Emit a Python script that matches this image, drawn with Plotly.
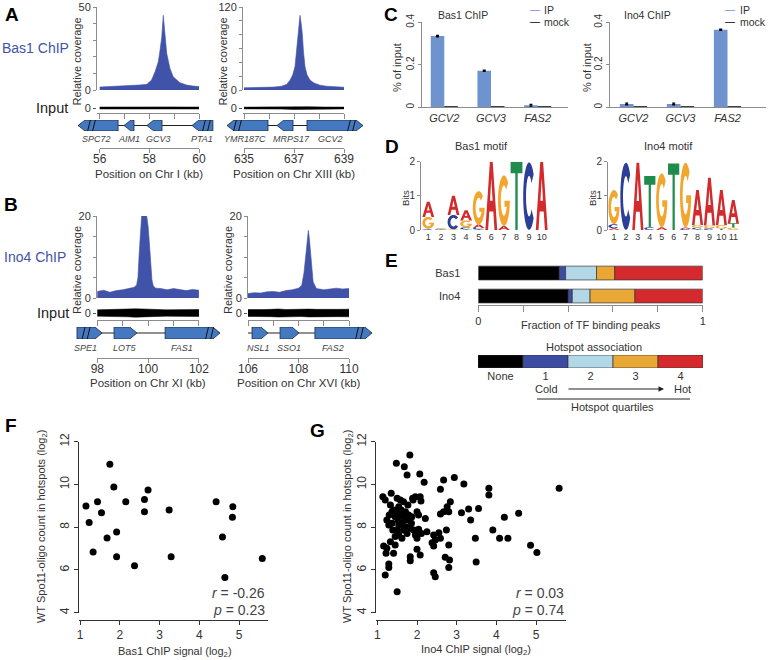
import numpy as np
import plotly.graph_objects as go

W, H = 768, 660
FONT = "Liberation Sans, Arial, sans-serif"
TXT = "#333333"
AXC = "#8c8c8c"
COV_BLUE = "#4153a8"
GENE_BLUE = "#4479bf"
IP_BLUE = "#6f93cf"
NT_COL = {"A": "#d32a2c", "C": "#2c3e98", "G": "#f2a62e", "T": "#1f8c4d"}
HOT_COL = ["#000000", "#3c4ca3", "#b2d8e8", "#e9a736", "#d42a2d"]

# ---------------- A: Bas1 ChIP, Chr I ----------------
a1_kb = [56.0, 56.3, 56.6, 56.9, 57.0, 57.3, 57.6, 57.9, 58.09, 58.23, 58.36,
         58.43, 58.50, 58.56, 58.63, 58.70, 58.83, 58.96, 59.23, 59.5, 59.75, 60.0]
a1_cov = [1.8, 2.0, 1.9, 2.1, 2.6, 2.8, 3.0, 3.4, 6.0, 11, 17,
          24, 32, 45, 34, 22, 13, 8, 4.4, 3.0, 2.4, 2.1]
a1_in_kb = [56.0, 56.7, 57.3, 57.8, 58.3, 58.6, 59.0, 59.5, 60.0]
a1_in = [0.2, 0.22, 0.28, 0.25, 0.32, 0.3, 0.22, 0.2, 0.2]
a1_sites = [58.54]
a1_genes = ["SPC72", "AIM1", "GCV3", "PTA1"]
a1_start = [55.13, 56.98, 57.90, 59.72]
a1_end = [56.74, 57.38, 58.51, 60.56]
a1_strand = [-1, -1, -1, -1]
a1_breaks = [55.57, 55.77, 60.20, 60.40]
a1_lab = [55.89, 57.16, 58.35, 60.12]

# ---------------- A: Bas1 ChIP, Chr XIII ----------------
a2_kb = [635.0, 635.3, 635.6, 635.9, 636.2, 636.5, 636.7, 636.84, 636.95, 637.04,
         637.1, 637.15, 637.2, 637.24, 637.28, 637.33, 637.38, 637.44, 637.52,
         637.64, 637.8, 638.04, 638.3, 638.6, 639.0]
a2_cov = [3.2, 3.5, 3.4, 3.8, 4.2, 5.5, 8, 14, 22, 34,
          55, 82, 100, 108, 98, 82, 55, 34, 22,
          14.5, 10, 7, 5.5, 4.5, 4.0]
a2_in_kb = [635.0, 635.8, 636.5, 637.0, 637.25, 637.6, 638.2, 639.0]
a2_in = [0.18, 0.2, 0.22, 0.3, 0.36, 0.26, 0.2, 0.18]
a2_sites = [637.24]
a2_genes = ["YMR187C", "MRPS17", "GCV2"]
a2_start = [634.32, 636.32, 637.52]
a2_end = [635.96, 636.96, 639.76]
a2_strand = [-1, -1, 1]
a2_breaks = [634.64, 634.84, 639.20, 639.40]
a2_lab = [635.04, 636.92, 638.44]

# ---------------- B: Ino4 ChIP, Chr XI ----------------
b1_kb = [98.0, 98.25, 98.5, 98.75, 99.0, 99.25, 99.45, 99.55, 99.6, 99.65,
         99.7, 99.75, 99.8, 99.85, 99.9, 99.95, 100.0, 100.05, 100.1, 100.15,
         100.2, 100.3, 100.5, 100.75, 101.0, 101.25, 101.5, 101.75, 102.0]
b1_cov = [1.6, 1.9, 1.4, 1.8, 2.0, 2.4, 2.6, 3.2, 5, 11,
          17, 20.5, 21.2, 20.8, 20.6, 19.8, 17.5, 13.5, 8.5, 4.5,
          3.0, 2.4, 2.3, 2.0, 2.3, 2.0, 1.8, 2.1, 1.9]
b1_in_kb = [98.0, 98.3, 98.6, 98.9, 99.2, 99.5, 99.8, 100.1, 100.4, 100.7,
            101.0, 101.3, 101.6, 102.0]
b1_in = [0.45, 0.5, 0.55, 0.5, 0.55, 0.6, 0.58, 0.52, 0.5, 0.45,
         0.48, 0.5, 0.52, 0.5]
b1_sites = [99.81, 99.91]
b1_genes = ["SPE1", "LOT5", "FAS1"]
b1_start = [97.20, 98.66, 100.67]
b1_end = [98.19, 99.56, 102.83]
b1_strand = [1, 1, 1]
b1_breaks = [97.46, 97.66, 102.32, 102.52]
b1_lab = [97.52, 99.09, 101.33]

# ---------------- B: Ino4 ChIP, Chr XVI ----------------
b2_kb = [106.0, 106.25, 106.5, 106.75, 107.0, 107.25, 107.5, 107.75, 108.0, 108.13,
         108.22, 108.3, 108.36, 108.39, 108.43, 108.48, 108.53, 108.58, 108.71,
         109.0, 109.25, 109.5, 109.75, 110.0]
b2_cov = [1.1, 1.3, 1.2, 1.5, 1.6, 1.4, 1.8, 2.0, 2.4, 3.1,
          6.3, 12, 15.5, 16.5, 14.5, 11, 6.5, 3.9, 2.3,
          2.0, 2.2, 2.4, 2.2, 2.3]
b2_in_kb = [106.0, 106.3, 106.6, 106.9, 107.2, 107.5, 107.8, 108.1, 108.4, 108.7,
            109.0, 109.3, 109.6, 110.0]
b2_in = [0.5, 0.55, 0.5, 0.52, 0.58, 0.5, 0.55, 0.5, 0.56, 0.52,
         0.5, 0.55, 0.52, 0.55]
b2_sites = [108.39]
b2_genes = ["NSL1", "SSO1", "FAS2"]
b2_start = [106.16, 107.27, 108.65]
b2_end = [106.79, 108.02, 110.91]
b2_strand = [1, 1, 1]
b2_breaks = [110.32, 110.51]
b2_lab = [106.40, 107.62, 109.37]

# ---------------- C: ChIP-qPCR ----------------
qpcr_genes = ["GCV2", "GCV3", "FAS2"]
bas1_ip = [0.335, 0.172, 0.01]
bas1_ip_err = [0.003, 0.003, 0.004]
bas1_mock = [0.004, 0.003, 0.003]
ino4_ip = [0.016, 0.016, 0.365]
ino4_ip_err = [0.004, 0.004, 0.003]
ino4_mock = [0.003, 0.003, 0.003]

# ---------------- D: motifs (bits) ----------------
bas1_A = [0.45, 0.01, 0.56, 0.30, 0.10, 2.0, 0.12, 0.0, 0.0, 2.0]
bas1_C = [0.02, 0.015, 0.42, 0.06, 0.04, 0.0, 0.0, 0.0, 1.98, 0.0]
bas1_G = [0.34, 0.015, 0.02, 0.20, 0.98, 0.0, 1.48, 0.0, 0.0, 0.0]
bas1_T = [0.02, 0.01, 0.0, 0.02, 0.02, 0.0, 0.0, 2.0, 0.0, 0.0]
ino4_A = [0.05, 0.0, 1.97, 0.0, 0.08, 0.0, 0.04, 1.02, 1.40, 1.03, 0.68]
ino4_C = [0.12, 1.97, 0.0, 0.08, 0.0, 0.0, 0.03, 0.05, 0.05, 0.0, 0.0]
ino4_G = [1.00, 0.0, 0.0, 0.0, 1.58, 0.0, 1.90, 0.08, 0.08, 0.10, 0.07]
ino4_T = [0.0, 0.0, 0.0, 1.50, 0.0, 1.95, 0.0, 0.02, 0.0, 0.04, 0.13]

# ---------------- E: hotspot association ----------------
hot_labels = ["None", "1", "2", "3", "4"]
bas1_frac = [0.361, 0.028, 0.138, 0.081, 0.392]
ino4_frac = [0.401, 0.018, 0.079, 0.200, 0.302]

# ---------------- F, G: scatter ----------------
f_x = [1.15, 1.23, 1.33, 1.44, 1.54, 1.68, 1.75, 1.85, 1.92, 1.92,
       2.15, 2.37, 2.62, 2.62, 2.71, 3.24, 3.29, 4.42, 4.58, 4.64,
       4.83, 4.84, 5.58]
f_y = [8.99, 8.22, 6.84, 9.19, 8.68, 7.49, 10.95, 9.88, 7.77, 6.62,
       9.19, 6.20, 9.30, 8.72, 9.74, 8.80, 6.62, 9.19, 7.54, 5.65,
       8.47, 8.96, 6.54]
g_x = [1.82, 1.48, 1.68, 1.75, 2.07, 2.18, 2.67, 2.94, 2.59, 3.18,
       3.81, 3.81, 1.14, 1.35, 1.20, 1.50, 1.66, 1.58, 1.89, 1.96,
       2.08, 2.10, 1.90, 1.33, 1.41, 1.54, 1.71, 1.79, 1.58, 1.45,
       1.24, 1.37, 1.29, 1.54, 1.62, 1.71, 1.83, 2.00, 2.04, 2.21,
       2.59, 2.67, 2.76, 2.84, 2.80, 3.12, 3.30, 3.55, 3.35, 3.91,
       4.08, 3.47, 3.49, 1.92, 2.04, 2.11, 1.96, 2.00, 2.25, 2.42,
       2.55, 2.74, 2.46, 2.59, 2.42, 2.38, 2.80, 1.50, 1.45, 1.62,
       1.33, 1.16, 1.24, 1.45, 1.41, 1.22, 2.00, 2.08, 1.83, 1.83,
       2.71, 2.82, 2.80, 1.29, 1.29, 1.20, 2.42, 2.46, 1.50, 1.37,
       1.50, 1.75, 1.66, 1.87, 1.77, 1.60, 1.30, 1.52, 1.86, 1.39,
       1.66, 1.75, 1.54, 4.20, 4.56, 4.86, 5.02, 5.58, 4.29]
g_y = [11.38, 10.99, 10.83, 10.44, 10.49, 10.10, 10.21, 10.33, 9.77, 10.02,
       9.82, 9.51, 9.43, 9.59, 9.27, 9.35, 9.19, 9.27, 9.35, 9.43,
       9.43, 9.22, 9.27, 9.04, 8.80, 8.96, 8.72, 8.57, 8.57, 8.49,
       8.34, 8.18, 8.10, 8.10, 8.18, 8.02, 7.95, 8.72, 8.57, 8.41,
       8.62, 8.72, 8.96, 9.19, 8.72, 8.68, 8.85, 8.88, 8.34, 7.87,
       7.48, 7.48, 6.37, 7.87, 7.90, 7.71, 7.63, 7.48, 7.79, 7.63,
       7.74, 7.87, 7.40, 7.48, 7.12, 7.27, 7.17, 7.87, 7.56, 7.48,
       7.32, 7.12, 7.01, 7.17, 6.78, 6.78, 6.97, 6.70, 6.62, 6.43,
       6.59, 6.47, 6.11, 6.28, 6.12, 5.76, 5.87, 5.68, 4.98, 8.72,
       8.65, 8.34, 8.49, 8.49, 9.04, 8.80, 8.57, 8.34, 8.18, 7.87,
       7.87, 7.71, 7.63, 8.46, 8.65, 7.15, 6.82, 9.82, 7.48]

# ================= figure plumbing =================
fig = go.Figure()
layout = {}
ann = []
shp = []
nax = [0]


def X(p):
    return p / W


def Y(p):
    return 1 - p / H


# automargin off: tick labels must not shrink the pixel layout
BASE = dict(showgrid=False, zeroline=False, showline=False, showticklabels=False,
            ticks="", fixedrange=True, automargin=False)


def axes(xl, xr, yb, yt, xrange, yrange, xo=None, yo=None):
    nax[0] += 1
    s = "" if nax[0] == 1 else str(nax[0])
    xa = dict(BASE, domain=[X(xl), X(xr)], range=xrange, anchor="y" + s)
    ya = dict(BASE, domain=[Y(yb), Y(yt)], range=yrange, anchor="x" + s)
    xa.update(xo or {})
    ya.update(yo or {})
    layout["xaxis" + s] = xa
    layout["yaxis" + s] = ya
    return "x" + s, "y" + s


def text(t, px, py, size=11, color=TXT, angle=0, xanchor="center"):
    ann.append(dict(text=t, x=X(px), y=Y(py), xref="paper", yref="paper",
                    showarrow=False, textangle=angle, xanchor=xanchor,
                    yanchor="middle", font=dict(family=FONT, size=size, color=color)))


def tf(size=11):
    return dict(family=FONT, size=size, color=TXT)


ROW_A = dict(top=7, bot=90, in_mid=108, in_line=113, g_mid=125.5, g_half=5.5,
             lab=138.5, pos=147, title=174, site=94.5)
ROW_B = dict(top=216, bot=298, in_mid=313, in_line=320, g_mid=333, g_half=6,
             lab=348, pos=356.5, title=383, site=302.5)


def genome(c, r, kb, cov, ymax, step, in_kb, in_v, sites, sym, genes, st, en,
           strand, breaks, lab, chrom):
    kb_at = lambda p: c["kb0"] + (p - c["x0"]) / c["s"]
    xe = c["x0"] + 4 * c["s"]
    # coverage
    tv = list(range(0, ymax + 1, step))
    tt = [str(v) if v in (0, ymax) else "" for v in tv]
    xa, ya = axes(c["ax"], xe, r["bot"], r["top"], [kb_at(c["ax"]), c["kb0"] + 4],
                  [0, ymax],
                  yo=dict(showline=True, linecolor=AXC, linewidth=1, ticks="outside",
                          ticklen=3, tickcolor=AXC, tickvals=tv, ticktext=tt,
                          showticklabels=True, tickfont=tf(11)))
    fig.add_trace(go.Scatter(x=kb, y=cov, mode="lines", fill="tozeroy",
                             fillcolor=COV_BLUE, line=dict(color=COV_BLUE, width=0.6),
                             xaxis=xa, yaxis=ya, hoverinfo="skip"))
    ys = -(r["site"] - r["bot"]) * ymax / (r["bot"] - r["top"])
    if sym == "square":
        mk = dict(symbol="square", size=3, color="black")
    else:
        mk = dict(symbol="line-ns-open", size=5, line=dict(color="black", width=1))
    fig.add_trace(go.Scatter(x=sites, y=[ys] * len(sites), mode="markers", marker=mk,
                             cliponaxis=False, xaxis=xa, yaxis=ya, hoverinfo="skip"))
    text("Relative coverage", c["ax"] - 20, (r["top"] + r["bot"]) / 2 + 13, 11, angle=-90)
    # input
    xa, ya = axes(c["ax"], xe, r["in_line"], 2 * r["in_mid"] - r["in_line"],
                  [kb_at(c["ax"]), c["kb0"] + 4], [-1, 1],
                  xo=dict(showline=True, linecolor=AXC, ticks="outside", ticklen=5,
                          tickcolor=AXC, tickvals=[c["kb0"] + i for i in range(5)]),
                  yo=dict(ticks="outside", ticklen=3, tickcolor="#555", tickvals=[0],
                          ticktext=["0"], showticklabels=True, tickfont=tf(11)))
    fig.add_trace(go.Scatter(x=list(in_kb) + list(in_kb[::-1]),
                             y=list(in_v) + [-v for v in in_v[::-1]],
                             mode="lines", fill="toself", fillcolor="black",
                             line=dict(color="black", width=0.5),
                             xaxis=xa, yaxis=ya, hoverinfo="skip"))
    # genes
    xa, ya = axes(c["gl"], c["gr"], r["g_mid"] + r["g_half"], r["g_mid"] - r["g_half"],
                  [kb_at(c["gl"]), kb_at(c["gr"])], [-1, 1])
    fig.add_trace(go.Scatter(x=[min(min(st), c["kb0"]), max(en)], y=[0, 0], mode="lines",
                             line=dict(color="#222", width=1), xaxis=xa, yaxis=ya,
                             hoverinfo="skip"))
    for g0, g1, sd in zip(st, en, strand):
        head = min(0.28, 0.7 * (g1 - g0))
        if sd > 0:
            px_ = [g0, g1 - head, g1, g1 - head, g0, g0]
        else:
            px_ = [g1, g0 + head, g0, g0 + head, g1, g1]
        fig.add_trace(go.Scatter(x=px_, y=[-1, -1, 0, 1, 1, -1], mode="lines",
                                 fill="toself", fillcolor=GENE_BLUE,
                                 line=dict(color="#1d2940", width=0.8),
                                 xaxis=xa, yaxis=ya, hoverinfo="skip"))
    bx, by = [], []
    for b in breaks:
        bx += [b - 0.07, b + 0.07, None]
        by += [-1.25, 1.25, None]
    fig.add_trace(go.Scatter(x=bx, y=by, mode="lines", line=dict(color="#111", width=1),
                             cliponaxis=False, xaxis=xa, yaxis=ya, hoverinfo="skip"))
    for name, lx in zip(genes, lab):
        text("<i>%s</i>" % name, c["x0"] + (lx - c["kb0"]) * c["s"], r["lab"], 9, "#444")
    # position scale (an invisible point keeps the axis drawn)
    xa, ya = axes(c["x0"], xe, r["pos"] + 1, r["pos"], [c["kb0"], c["kb0"] + 4], [0, 1],
                  xo=dict(showline=True, linecolor=AXC, ticks="outside", ticklen=4,
                          tickcolor=AXC, tickvals=[c["kb0"], c["kb0"] + 2, c["kb0"] + 4],
                          showticklabels=True, ticklabelstandoff=-4, tickfont=tf(12)))
    fig.add_trace(go.Scatter(x=[c["kb0"]], y=[0.5], mode="markers",
                             marker=dict(opacity=0), xaxis=xa, yaxis=ya, hoverinfo="skip"))
    text("Position on Chr %s (kb)" % chrom, (c["x0"] + xe) / 2, r["title"], 11.5)


COL_AL = dict(kb0=56, x0=99.7, s=24.83, ax=97, gl=72, gr=222)
COL_AR = dict(kb0=635, x0=244, s=25.0, ax=243, gl=222, gr=378)
COL_BL = dict(kb0=98, x0=97.3, s=25.4, ax=97, gl=72, gr=224)
COL_BR = dict(kb0=106, x0=248, s=25.25, ax=248, gl=224, gr=378)

genome(COL_AL, ROW_A, a1_kb, a1_cov, 50, 10, a1_in_kb, a1_in, a1_sites, "line",
       a1_genes, a1_start, a1_end, a1_strand, a1_breaks, a1_lab, "I")
genome(COL_AR, ROW_A, a2_kb, a2_cov, 120, 20, a2_in_kb, a2_in, a2_sites, "square",
       a2_genes, a2_start, a2_end, a2_strand, a2_breaks, a2_lab, "XIII")
genome(COL_BL, ROW_B, b1_kb, b1_cov, 20, 5, b1_in_kb, b1_in, b1_sites, "line",
       b1_genes, b1_start, b1_end, b1_strand, b1_breaks, b1_lab, "XI")
genome(COL_BR, ROW_B, b2_kb, b2_cov, 20, 5, b2_in_kb, b2_in, b2_sites, "line",
       b2_genes, b2_start, b2_end, b2_strand, b2_breaks, b2_lab, "XVI")

text("Bas1 ChIP", 35, 48, 14, COV_BLUE)
text("Ino4 ChIP", 35, 257, 14, COV_BLUE)
text("Input", 52, 108, 14.5, "#222")
text("Input", 53, 313, 14.5, "#222")


# ---------------- C ----------------
def qpcr(xl, xr, c0, sp, ip, err, mock):
    xa, ya = axes(xl, xr, 107.3, 22.3, [(xl - c0) / sp, (xr - c0) / sp], [0, 0.4],
                  xo=dict(showline=True, linecolor=AXC, tickvals=[0, 1, 2],
                          ticktext=["<i>%s</i>" % g for g in qpcr_genes],
                          showticklabels=True, tickfont=tf(11)),
                  yo=dict(showline=True, linecolor=AXC, ticks="outside", ticklen=3,
                          tickcolor=AXC, tickvals=[0, 0.2, 0.4],
                          ticktext=["0", "0.2", "0.4"], tickangle=-90,
                          showticklabels=True, tickfont=tf(10)))
    fig.add_trace(go.Bar(x=[0, 1, 2], y=ip, width=0.29, offset=-0.29,
                         marker=dict(color=IP_BLUE, line=dict(width=0)),
                         error_y=dict(type="data", array=err, color="black",
                                      thickness=1.3, width=1.5),
                         xaxis=xa, yaxis=ya, hoverinfo="skip"))
    fig.add_trace(go.Bar(x=[0, 1, 2], y=mock, width=0.29, offset=0,
                         marker=dict(color="black", line=dict(width=0)),
                         xaxis=xa, yaxis=ya, hoverinfo="skip"))


qpcr(422, 568, 444.3, 46.7, bas1_ip, bas1_ip_err, bas1_mock)
qpcr(610, 766, 633.5, 47.0, ino4_ip, ino4_ip_err, ino4_mock)
text("% of input", 397, 68, 11, angle=-90)
text("% of input", 587, 68, 11, angle=-90)
text("Bas1 ChIP", 463, 15, 10.5)
text("Ino4 ChIP", 647, 15, 10.5)
for lx, tx in ((535, 542), (730, 738)):
    text("—", lx, 10, 10, IP_BLUE)
    text("IP", tx, 10, 10.5, xanchor="left")
    text("—", lx, 21.5, 10, "black")
    text("mock", tx, 21.5, 10.5, xanchor="left")


# ---------------- D ----------------
def arc(cx, cy, rx, ry, a0, a1, n=26):
    t = np.radians(np.linspace(a0, a1, n))
    return list(zip(cx + rx * np.cos(t), cy + ry * np.sin(t)))


GLYPH = {
    "A": [[(0, 0), (0.38, 1), (0.62, 1), (1, 0), (0.77, 0), (0.67, 0.27),
           (0.33, 0.27), (0.23, 0)],
          [(0.39, 0.43), (0.5, 0.76), (0.61, 0.43)]],
    "T": [[(0, 1), (1, 1), (1, 0.83), (0.6, 0.83), (0.6, 0), (0.4, 0), (0.4, 0.83),
           (0, 0.83)]],
    "C": [arc(0.5, 0.5, 0.5, 0.5, 40, 320) + arc(0.5, 0.5, 0.26, 0.3, 320, 40)],
    "G": [arc(0.5, 0.5, 0.5, 0.5, 45, 360) + [(0.55, 0.5), (0.55, 0.38), (0.75, 0.38)]
          + arc(0.5, 0.5, 0.26, 0.3, 335, 45)],
}


def logo(xl, xr, p1, sp, cols):
    n = len(cols["A"])
    xa, ya = axes(xl, xr, 230, 161.7, [1 + (xl - p1) / sp, 1 + (xr - p1) / sp], [0, 2],
                  xo=dict(tickvals=list(range(1, n + 1)), showticklabels=True,
                          tickfont=tf(9)),
                  yo=dict(showline=True, linecolor=AXC, ticks="outside", ticklen=3,
                          tickcolor=AXC, tickvals=[0, 1, 2], showticklabels=True,
                          tickfont=tf(10)))
    fig.add_trace(go.Scatter(x=[1], y=[0], mode="markers", marker=dict(opacity=0),
                             xaxis=xa, yaxis=ya, hoverinfo="skip"))
    for i in range(n):
        stack = sorted(((cols[ch][i], ch) for ch in "ACGT"), key=lambda t: t[0])
        y0 = 0.0
        for h, ch in stack:
            if h <= 0:
                continue
            path = ""
            for poly in GLYPH[ch]:
                path += "M" + "L".join("%.4f,%.4f" % (i + 1 - 0.47 + u * 0.94, y0 + v * h)
                                       for u, v in poly) + "Z"
            shp.append(dict(type="path", path=path, xref=xa, yref=ya,
                            fillcolor=NT_COL[ch], line=dict(width=0), layer="above"))
            y0 += h


logo(421, 548, 428.3, 12.6, dict(A=bas1_A, C=bas1_C, G=bas1_G, T=bas1_T))
logo(608, 739, 614, 11.93, dict(A=ino4_A, C=ino4_C, G=ino4_G, T=ino4_T))
text("Bas1 motif", 481, 146, 11)
text("Ino4 motif", 668, 146, 11)
text("Bits", 405, 198, 9.5, angle=-90)
text("Bits", 592, 198, 9.5, angle=-90)

# ---------------- E ----------------
xa, ya = axes(478.3, 702.7, 305, 262, [0, 1], [1.39, -0.48],
              xo=dict(showline=True, linecolor=AXC, ticks="outside", ticklen=6,
                      tickcolor=AXC, tickvals=[0, 0.2, 0.4, 0.6, 0.8, 1],
                      ticktext=["0", "", "", "", "", "1"], showticklabels=True,
                      tickfont=tf(11)),
              yo=dict(tickvals=[0, 1], ticktext=["Bas1", "Ino4"], showticklabels=True,
                      ticklabelstandoff=17, tickfont=tf(11)))
cb = np.concatenate([[0], np.cumsum(bas1_frac)[:-1]])
ci = np.concatenate([[0], np.cumsum(ino4_frac)[:-1]])
for k in range(5):
    fig.add_trace(go.Bar(x=[bas1_frac[k], ino4_frac[k]], y=[0, 1], base=[cb[k], ci[k]],
                         orientation="h", width=0.6,
                         marker=dict(color=HOT_COL[k], line=dict(color="#333", width=0.7)),
                         xaxis=xa, yaxis=ya, hoverinfo="skip"))
xa, ya = axes(478, 703, 368, 355, [0, 5], [-0.5, 0.5],
              xo=dict(tickvals=[0.5, 1.5, 2.5, 3.5, 4.5], ticktext=hot_labels,
                      showticklabels=True, tickfont=tf(11)))
fig.add_trace(go.Bar(x=[1] * 5, y=[0] * 5, base=list(range(5)), orientation="h", width=1,
                     marker=dict(color=HOT_COL, line=dict(color="#333", width=0.7)),
                     xaxis=xa, yaxis=ya, hoverinfo="skip"))
text("Fraction of TF binding peaks", 591, 325, 11)
text("Hotspot association", 594, 347, 11)
text("Cold", 546, 389, 11)
text("Hot", 682, 389, 11)
text("Hotspot quartiles", 612, 407, 11)
ann.append(dict(x=X(664), y=Y(389), xref="paper", yref="paper", text="", showarrow=True,
                ax=-97, ay=0, arrowhead=2, arrowsize=1.1, arrowwidth=1, arrowcolor="#222"))
shp.append(dict(type="line", xref="paper", yref="paper", x0=X(537), x1=X(690),
                y0=Y(399), y1=Y(399), line=dict(color="#222", width=1)))


# ---------------- F, G ----------------
def scatter_panel(xl, xr, x1px, sp, xs, ys):
    xa, ya = axes(xl, xr, 612.7, 441.7, [1 + (xl - x1px) / sp, 1 + (xr - x1px) / sp],
                  [4, 12],
                  xo=dict(anchor="free", position=Y(620), showline=True,
                          linecolor="#333", ticks="outside", ticklen=4, tickcolor="#333",
                          tickvals=[1, 2, 3, 4, 5], showticklabels=True, tickfont=tf(12)),
                  yo=dict(showline=True, linecolor="#333", ticks="outside", ticklen=4,
                          tickcolor="#333", tickvals=[4, 6, 8, 10, 12], tickangle=-90,
                          showticklabels=True, tickfont=tf(12)))
    fig.add_trace(go.Scatter(x=xs, y=ys, mode="markers",
                             marker=dict(color="black", size=7), cliponaxis=False,
                             xaxis=xa, yaxis=ya, hoverinfo="skip"))


scatter_panel(79, 268, 80, 39.8, f_x, f_y)
scatter_panel(376, 566, 377.3, 39.7, g_x, g_y)
ytitle = "WT Spo11-oligo count in hotspots (log<sub>2</sub>)"
text(ytitle, 42, 527, 11, angle=-90)
text(ytitle, 348, 527, 11, angle=-90)
text("Bas1 ChIP signal (log<sub>2</sub>)", 175, 652, 11)
text("Ino4 ChIP signal (log<sub>2</sub>)", 476, 650, 11)
text("<i>r</i> = -0.26", 267, 593, 14, "#444", xanchor="right")
text("<i>p</i> = 0.23", 267, 610, 14, "#444", xanchor="right")
text("<i>r</i> = 0.03", 566, 593, 14, "#444", xanchor="right")
text("<i>p</i> = 0.74", 566, 610, 14, "#444", xanchor="right")

# panel letters
for letter, lx, ly in (("A", 12, 14), ("B", 11, 204), ("C", 391, 14), ("D", 392, 147),
                       ("E", 391, 260), ("F", 11, 425), ("G", 317, 430)):
    text("<b>%s</b>" % letter, lx, ly, 19, "black")

fig.update_layout(width=W, height=H, margin=dict(l=0, r=0, t=0, b=0, autoexpand=False),
                  paper_bgcolor="white", plot_bgcolor="rgba(0,0,0,0)",
                  showlegend=False, barmode="overlay",
                  font=dict(family=FONT, size=11, color=TXT),
                  annotations=ann, shapes=shp, **layout)

# drop the default 8px body margin so the figure fills the window exactly
fig.write_html("out.html", config={"displayModeBar": False},
               post_script="document.body.style.margin='0px';")
